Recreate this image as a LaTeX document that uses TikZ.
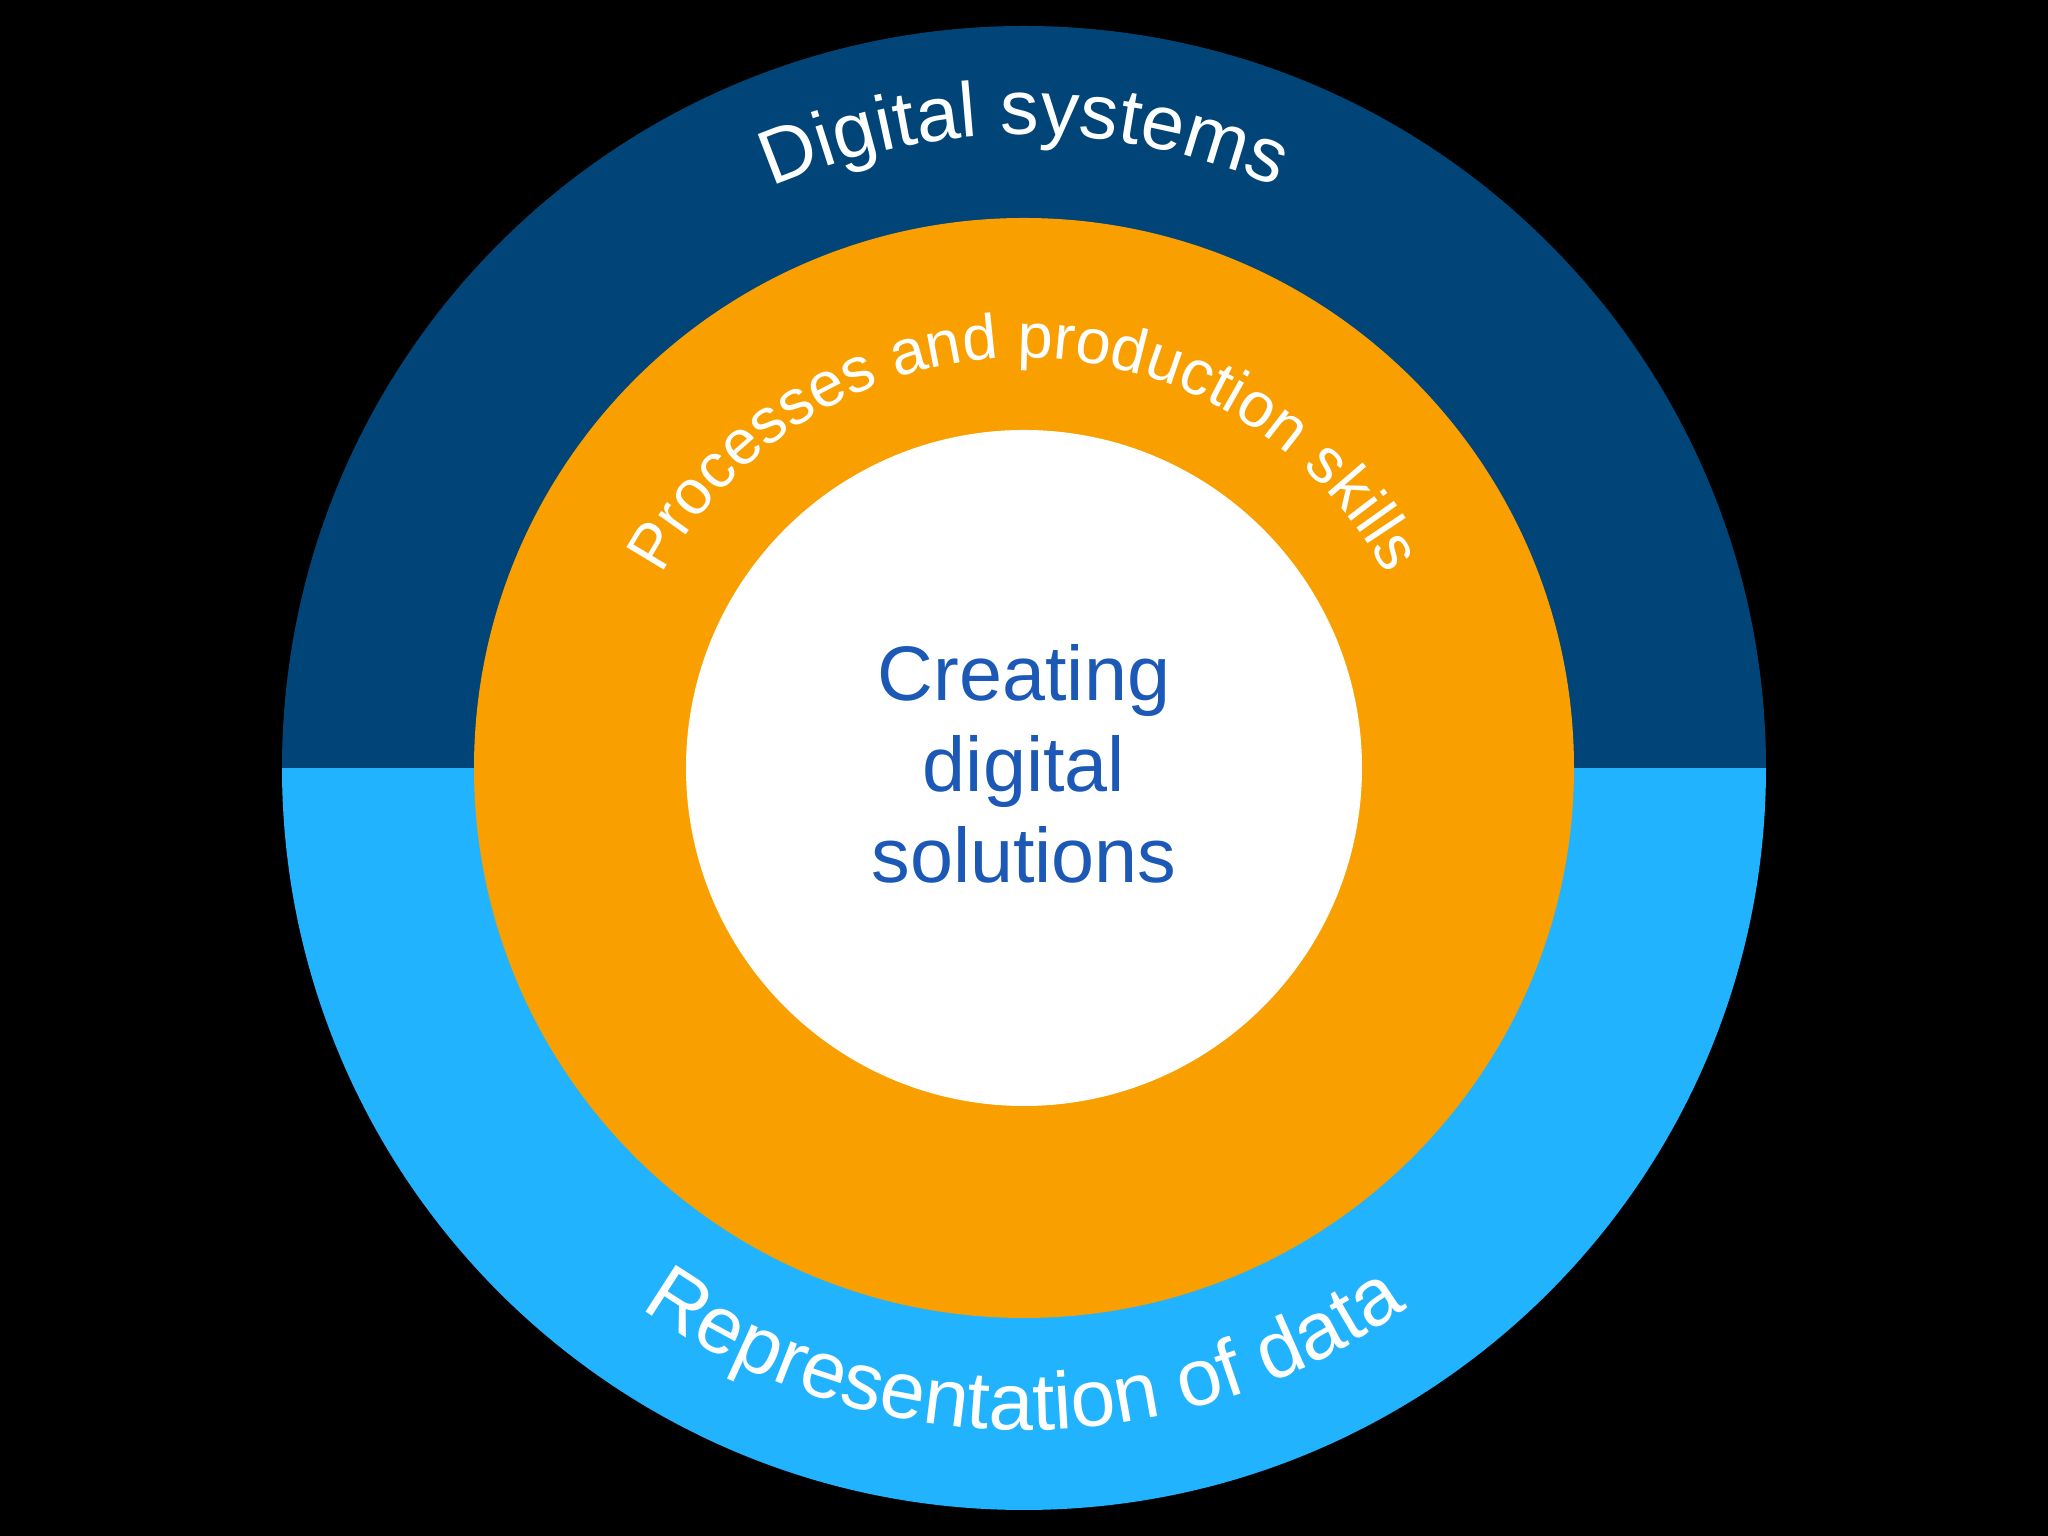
\documentclass[tikz,border=0pt]{standalone}
\usepackage{fontspec}
\setmainfont{Liberation Sans}
\usetikzlibrary{decorations.text,calc}
\definecolor{darkblue}{RGB}{0,68,120}
\definecolor{lightblue}{RGB}{34,179,254}
\definecolor{ringorange}{RGB}{249,159,0}
\definecolor{textblue}{RGB}{28,88,182}
\tikzset{
  ringtext/.style={decorate, decoration={text along path, text align=center, text color=white}},
  disc/.style={circle, inner sep=0pt, outer sep=0pt}
}
\begin{document}
\begin{tikzpicture}
\useasboundingbox (0,0) rectangle (20.48,15.36);
\fill[black] (0,0) rectangle (20.48,15.36);
\coordinate (C) at (10.24,7.68);
\begin{scope}
  \clip (C) circle[radius=7.42];
  \fill[darkblue] (2,7.68) rectangle (19,15.36);
  \fill[lightblue] (2,0) rectangle (19,7.68);
\end{scope}
\node[disc, fill=ringorange, minimum size=11.0cm] (ring) at (C) {};
\node[disc, fill=white, minimum size=6.76cm] (core) at (C) {};
\node[align=center, text=textblue, font=\fontsize{22}{26}\selectfont] (label) at (10.24,7.72) {Creating\\digital\\solutions};
\path[ringtext, decoration={text={|\fontsize{22}{26}\selectfont|Digital systems}}]
  ($(C)+(170:6.33)$) arc[start angle=170, end angle=10, radius=6.33];
\path[ringtext, decoration={text={|\fontsize{18}{22}\selectfont|Processes and production skills}}]
  ($(C)+(178:4.10)$) arc[start angle=178, end angle=2, radius=4.10];
\path[ringtext, decoration={text={|\fontsize{23}{27}\selectfont|Representation of data}}]
  ($(C)+(200:6.62)$) arc[start angle=200, end angle=340, radius=6.62];
\end{tikzpicture}
\end{document}
